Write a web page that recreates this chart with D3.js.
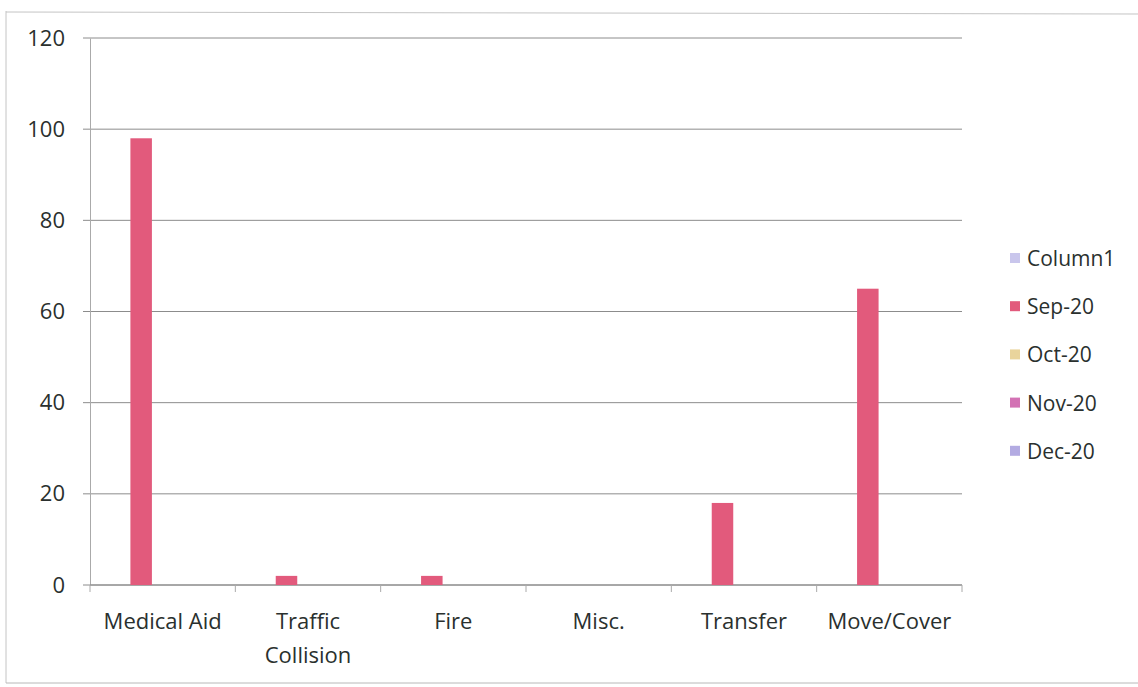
<!DOCTYPE html>
<html><head><meta charset="utf-8">
<script src="https://cdn.jsdelivr.net/npm/d3@7"></script>
<style>body{margin:0;background:#fff}text{font-family:"Open Sans",sans-serif;fill:#2a302e}</style>
</head><body><svg id="c" width="1138" height="687"></svg>
<script>
const categories = ["Medical Aid", "Traffic Collision", "Fire", "Misc.", "Transfer", "Move/Cover"];
const seriesNames = ["Column1", "Sep-20", "Oct-20", "Nov-20", "Dec-20"];
const column1 = [0, 0, 0, 0, 0, 0];
const sep20 = [98, 2, 2, 0, 18, 65];
const oct20 = [0, 0, 0, 0, 0, 0];
const nov20 = [0, 0, 0, 0, 0, 0];
const dec20 = [0, 0, 0, 0, 0, 0];
const yTicks = [0, 20, 40, 60, 80, 100, 120];
const colors = ["#c9c6ec", "#e25a7c", "#e9d49c", "#d372b4", "#b3abe2"];

const seriesValues = [column1, sep20, oct20, nov20, dec20];
const svg = d3.select("#c");
const L = 90, R = 962, T = 38, B = 585;

// outer frame
svg.append("line").attr("x1",6).attr("x2",6).attr("y1",11).attr("y2",683).attr("stroke","#c4c4c4");
svg.append("line").attr("x1",6).attr("x2",1138).attr("y1",12).attr("y2",14).attr("stroke","#c4c4c4");
svg.append("line").attr("x1",6).attr("x2",1138).attr("y1",683).attr("y2",683).attr("stroke","#b8b8b8");

const y = d3.scaleLinear().domain([0,120]).range([B,T]);
const x0 = d3.scaleBand().domain(categories).range([L,R]).padding(0);
const x1 = d3.scaleBand().domain(seriesNames).range([x0.bandwidth()*0.13, x0.bandwidth()*0.87]).padding(0);

// gridlines
svg.append("g").selectAll("line").data(yTicks).join("line")
  .attr("x1",L-7).attr("x2",R).attr("y1",d=>y(d)).attr("y2",d=>y(d))
  .attr("stroke","#8c8c8c").attr("stroke-width",1);

// y axis
const ya = svg.append("g").attr("transform",`translate(${L},0)`)
  .call(d3.axisLeft(y).tickValues(yTicks).tickSize(0).tickPadding(25));
ya.select(".domain").attr("stroke","#aaa");
ya.selectAll("text").style("font-size","22px").attr("fill","#2a302e").attr("font-family","Open Sans");

// x axis
const xa = svg.append("g").attr("transform",`translate(0,${B})`);
xa.append("line").attr("x1",L).attr("x2",R).attr("stroke","#8a8a8a");
xa.selectAll("line.t").data(d3.range(categories.length+1)).join("line").attr("class","t")
  .attr("x1",i=>L+i*x0.step()).attr("x2",i=>L+i*x0.step()).attr("y1",0).attr("y2",7).attr("stroke","#aaa");

// bars
const g = svg.append("g");
categories.forEach((c,ci)=>{
  seriesNames.forEach((s,si)=>{
    const v = seriesValues[si][ci];
    if (v<=0) return;
    g.append("rect").attr("x",x0(c)+x1(s)).attr("width",x1.bandwidth())
      .attr("y",y(v)).attr("height",y(0)-y(v)).attr("fill",colors[si]);
  });
});

// category labels
const lab = svg.append("g");
categories.forEach(c=>{
  const cx = x0(c)+x0.bandwidth()/2;
  const parts = c==="Traffic Collision" ? ["Traffic","Collision"] : [c];
  parts.forEach((p,i)=>{
    lab.append("text").attr("x",cx).attr("y",629+i*34).attr("text-anchor","middle")
      .style("font-size","22px").text(p);
  });
});

// legend
const lg = svg.append("g");
seriesNames.forEach((s,i)=>{
  const yy = 258 + i*48.2;
  lg.append("rect").attr("x",1010).attr("y",yy-5).attr("width",10).attr("height",10).attr("fill",colors[i]);
  lg.append("text").attr("x",1027).attr("y",yy+8).style("font-size","21px").text(s);
});
</script></body></html>
